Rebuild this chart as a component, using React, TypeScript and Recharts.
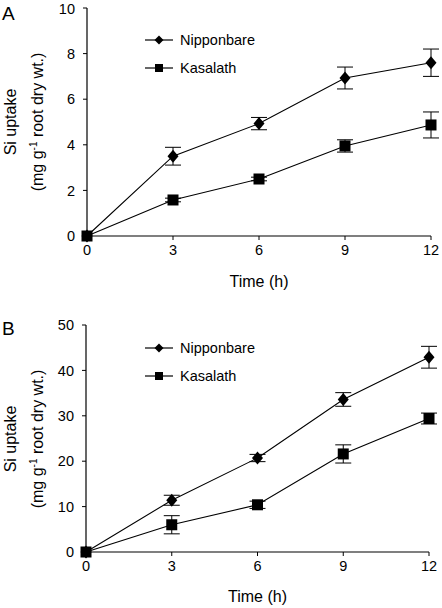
import React from "react";
import { LineChart, Line, XAxis, YAxis, ErrorBar } from "recharts";

const hours = [0, 3, 6, 9, 12];

// panel A
const nipA = [0, 3.5, 4.93, 6.93, 7.6];
const nipAErr = [0, 0.39, 0.27, 0.48, 0.6];
const kasA = [0, 1.58, 2.5, 3.95, 4.87];
const kasAErr = [0, 0.08, 0.08, 0.27, 0.57];
const ticksA = [0, 2, 4, 6, 8, 10];

// panel B
const nipB = [0, 11.4, 20.7, 33.6, 42.9];
const nipBErr = [0, 1.1, 0.8, 1.5, 2.4];
const kasB = [0, 6.0, 10.4, 21.6, 29.4];
const kasBErr = [0, 2.0, 0.8, 2.0, 1.2];
const ticksB = [0, 10, 20, 30, 40, 50];

const xTicks = [0, 3, 6, 9, 12];

const FONT = "'Liberation Sans', Arial, sans-serif";

const Diamond = (props: any) => {
  const { cx, cy, index } = props;
  if (cx == null || cy == null) return <g key={index} />;
  return (
    <path
      key={index}
      d={`M${cx},${cy - 6.5}L${cx + 5.5},${cy}L${cx},${cy + 6.5}L${cx - 5.5},${cy}Z`}
      fill="#000"
    />
  );
};

const Square = (props: any) => {
  const { cx, cy, index } = props;
  if (cx == null || cy == null) return <g key={index} />;
  return <rect key={index} x={cx - 5.5} y={cy - 5.5} width={11} height={11} fill="#000" />;
};

const LegendBox = () => (
  <svg width={130} height={45} style={{ fontFamily: FONT, display: "block" }}>
    <line x1={0} x2={28} y1={8} y2={8} stroke="#000" strokeWidth={1.2} />
    <path d="M14,3.5L18.5,8L14,12.5L9.5,8Z" fill="#000" />
    <text x={35} y={13} fontSize={14.5} fill="#000">Nipponbare</text>
    <line x1={0} x2={28} y1={36} y2={36} stroke="#000" strokeWidth={1.2} />
    <rect x={10} y={32} width={8} height={8} fill="#000" />
    <text x={35} y={41} fontSize={14.5} fill="#000">Kasalath</text>
  </svg>
);

// rotated y-axis title, two lines
const YTitle = ({ cy }: { cy: number }) => {
  const line = (cx: number, content: React.ReactNode) => (
    <div
      style={{
        position: "absolute",
        left: cx - 100,
        top: cy - 10,
        width: 200,
        height: 20,
        lineHeight: "20px",
        textAlign: "center",
        fontFamily: FONT,
        fontSize: 16,
        color: "#000",
        whiteSpace: "nowrap",
        transform: "rotate(-90deg)",
        transformOrigin: "50% 50%",
      }}
    >
      {content}
    </div>
  );
  return (
    <>
      {line(11, "Si uptake")}
      {line(38, (
        <span>
          (mg g<sup style={{ fontSize: 10, lineHeight: 0, verticalAlign: "6px" }}>-1</sup> root dry wt.)
        </span>
      ))}
    </>
  );
};

type PanelProps = {
  letter: string;
  nip: number[];
  nipErr: number[];
  kas: number[];
  kasErr: number[];
  yTicks: number[];
  height: number;
  top: number;
  marginTop: number;
  marginRight: number;
  yAxisWidth: number;
  xAxisHeight: number;
  xLabelOffset: number;
  legendTop: number;
  letterTop: number;
};

function Panel(p: PanelProps) {
  const data = hours.map((h, i) => ({
    h,
    nip: p.nip[i],
    nipErr: p.nipErr[i],
    kas: p.kas[i],
    kasErr: p.kasErr[i],
  }));
  const tickStyle = { fontSize: 14.5, fill: "#000", fontFamily: FONT };
  const plotCenter = p.marginTop + (p.height - p.marginTop - p.xAxisHeight) / 2;
  return (
    <div style={{ position: "absolute", left: 0, top: p.top, width: 442, height: p.height }}>
      <LineChart
        width={442}
        height={p.height}
        data={data}
        margin={{ top: p.marginTop, right: p.marginRight, bottom: 0, left: 0 }}
      >
        <XAxis
          dataKey="h"
          type="number"
          domain={[0, 12]}
          ticks={xTicks}
          tickSize={4}
          tickMargin={5}
          height={p.xAxisHeight}
          axisLine={{ stroke: "#000", strokeWidth: 1.2 }}
          tickLine={{ stroke: "#000", strokeWidth: 1 }}
          tick={tickStyle}
          label={{
            value: "Time (h)",
            position: "insideBottom",
            offset: p.xLabelOffset,
            style: { fontSize: 16, fill: "#000", fontFamily: FONT },
          }}
        />
        <YAxis
          type="number"
          domain={[p.yTicks[0], p.yTicks[p.yTicks.length - 1]]}
          ticks={p.yTicks}
          width={p.yAxisWidth}
          tickSize={4}
          tickMargin={8}
          axisLine={{ stroke: "#000", strokeWidth: 1.2 }}
          tickLine={{ stroke: "#000", strokeWidth: 1 }}
          tick={tickStyle}
        />
        <Line
          dataKey="nip"
          stroke="#000"
          strokeWidth={1.1}
          dot={Diamond}
          isAnimationActive={false}
        >
          <ErrorBar dataKey="nipErr" width={8} stroke="#000" strokeWidth={1} direction="y" />
        </Line>
        <Line
          dataKey="kas"
          stroke="#000"
          strokeWidth={1.1}
          dot={Square}
          isAnimationActive={false}
        >
          <ErrorBar dataKey="kasErr" width={8} stroke="#000" strokeWidth={1} direction="y" />
        </Line>
      </LineChart>
      <YTitle cy={plotCenter} />
      <div style={{ position: "absolute", left: 145, top: p.legendTop }}>
        <LegendBox />
      </div>
      <div
        style={{
          position: "absolute",
          left: 2,
          top: p.letterTop,
          fontFamily: FONT,
          fontSize: 19,
          lineHeight: "19px",
        }}
      >
        {p.letter}
      </div>
    </div>
  );
}

export default function App() {
  return (
    <div
      style={{
        position: "absolute",
        left: 0,
        top: 0,
        width: 442,
        height: 608,
        background: "#fff",
      }}
    >
      <Panel
        letter="A"
        nip={nipA}
        nipErr={nipAErr}
        kas={kasA}
        kasErr={kasAErr}
        yTicks={ticksA}
        height={300}
        top={0}
        marginTop={8}
        marginRight={11}
        yAxisWidth={87}
        xAxisHeight={64}
        xLabelOffset={13}
        legendTop={32}
        letterTop={4}
      />
      <Panel
        letter="B"
        nip={nipB}
        nipErr={nipBErr}
        kas={kasB}
        kasErr={kasBErr}
        yTicks={ticksB}
        height={308}
        top={300}
        marginTop={25}
        marginRight={13}
        yAxisWidth={86}
        xAxisHeight={56}
        xLabelOffset={6}
        legendTop={40}
        letterTop={19}
      />
    </div>
  );
}
